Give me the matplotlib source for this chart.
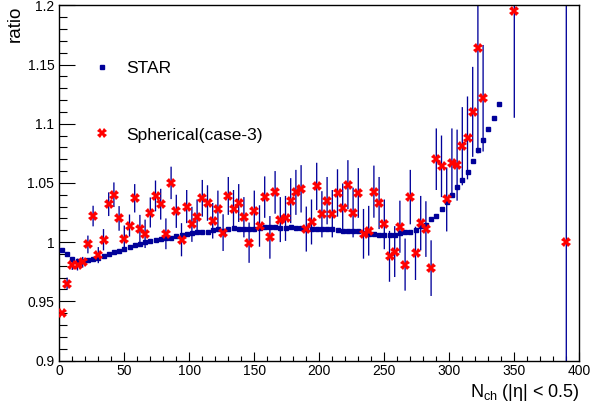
import matplotlib
matplotlib.use("Agg")
import matplotlib.pyplot as plt
from matplotlib.ticker import MultipleLocator

plt.rcParams['font.family'] = ['Liberation Sans', 'DejaVu Sans']
plt.rcParams['mathtext.fontset'] = 'custom'
plt.rcParams['mathtext.rm'] = 'Liberation Sans'
plt.rcParams['mathtext.it'] = 'Liberation Sans:italic'

# STAR ratio (bin centres and values)
star_x = [2, 6, 10, 14, 18, 22, 26, 30, 34, 38, 42, 46, 50, 54, 58, 62, 66, 70, 74, 78,
          82, 86, 90, 94, 98, 102, 106, 110, 114, 118, 122, 126, 130, 134, 138, 142, 146,
          150, 154, 158, 162, 166, 170, 174, 178, 182, 186, 190, 194, 198, 202, 206, 210,
          214, 218, 222, 226, 230, 234, 238, 242, 246, 250, 254, 258, 262, 266, 270, 274,
          278, 282, 286, 290, 294, 298, 302, 306, 310, 314, 318, 322, 326, 330, 334, 338]
star_y = [0.9933, 0.9897, 0.986, 0.984, 0.9843, 0.9846, 0.9855, 0.9868, 0.9885, 0.9897,
          0.9914, 0.9925, 0.994, 0.996, 0.9973, 0.9988, 1.0, 1.0009, 1.0015, 1.0024,
          1.0032, 1.0037, 1.005, 1.0057, 1.0066, 1.0075, 1.0084, 1.0084, 1.0084, 1.0098,
          1.011, 1.009, 1.011, 1.0116, 1.0107, 1.0107, 1.0107, 1.0113, 1.0119, 1.0125,
          1.0125, 1.0125, 1.0119, 1.0122, 1.0125, 1.0119, 1.0119, 1.0113, 1.0113, 1.011,
          1.0107, 1.011, 1.0108, 1.0103, 1.0096, 1.0094, 1.0094, 1.0094, 1.0077, 1.0066,
          1.0068, 1.0062, 1.006, 1.0058, 1.0058, 1.0074, 1.0088, 1.0088, 1.0102, 1.0136,
          1.0144, 1.0192, 1.022, 1.0277, 1.0336, 1.040, 1.0463, 1.0522, 1.059, 1.0682,
          1.0775, 1.0865, 1.0958, 1.1045, 1.1164]

# Spherical(case-3) ratio with errors
sph_x = [2, 6, 10, 14, 18, 22, 26, 30, 34, 38, 42, 46, 50, 54, 58, 62, 66, 70, 74, 78,
         82, 86, 90, 94, 98, 102, 106, 110, 114, 118, 122, 126, 130, 134, 138, 142, 146,
         150, 154, 158, 162, 166, 170, 174, 178, 182, 186, 190, 194, 198, 202, 206, 210,
         214, 218, 222, 226, 230, 234, 238, 242, 246, 250, 254, 258, 262, 266, 270, 274,
         278, 282, 286, 290, 294, 298, 302, 306, 310, 314, 318, 322, 326, 350, 390]
sph_y = [0.940, 0.965, 0.981, 0.981, 0.983, 0.998, 1.022, 0.989, 1.002, 1.032,
         1.040, 1.020, 1.003, 1.014, 1.037, 1.011, 1.007, 1.025, 1.039, 1.032,
         1.007, 1.050, 1.026, 1.002, 1.030, 1.015, 1.021, 1.037, 1.033, 1.018,
         1.028, 1.008, 1.039, 1.028, 1.033, 1.021, 0.9995, 1.026, 1.0136, 1.038,
         1.004, 1.042, 1.019, 1.020, 1.035, 1.042, 1.045, 1.011, 1.017, 1.047,
         1.0235, 1.035, 1.024, 1.0415, 1.029, 1.0485, 1.025, 1.0415, 1.007, 1.0096,
         1.0426, 1.033, 1.015, 0.988, 0.992, 1.013, 0.981, 1.038, 0.9905, 1.016,
         1.011, 0.978, 1.070, 1.064, 1.036, 1.067, 1.065, 1.081, 1.088, 1.110,
         1.164, 1.1215, 1.195, 1.000]
sph_err = [0.002, 0.005, 0.0045, 0.005, 0.0045, 0.0075, 0.0087, 0.0068, 0.009, 0.010,
           0.0104, 0.0104, 0.011, 0.0093, 0.012, 0.012, 0.012, 0.0127, 0.013, 0.013,
           0.013, 0.0137, 0.014, 0.014, 0.014, 0.0148, 0.015, 0.0155, 0.015, 0.015,
           0.0155, 0.0155, 0.016, 0.016, 0.016, 0.017, 0.017, 0.0175, 0.0175, 0.0175,
           0.018, 0.018, 0.019, 0.019, 0.019, 0.019, 0.020, 0.019, 0.019, 0.020,
           0.0195, 0.020, 0.020, 0.020, 0.0205, 0.0207, 0.021, 0.021, 0.021, 0.021,
           0.022, 0.022, 0.021, 0.0215, 0.0215, 0.022, 0.022, 0.023, 0.0225, 0.023,
           0.0235, 0.0235, 0.026, 0.026, 0.027, 0.029, 0.030, 0.033, 0.035, 0.038,
           0.089, 0.045, 0.090, 0.500]

fig = plt.figure(figsize=(5.91, 4.05), dpi=100)
ax = fig.add_axes([59.3 / 591, 1 - 360.5 / 405, (579.3 - 59.3) / 591, (360.5 - 5.3) / 405])

eb = ax.errorbar(sph_x, sph_y, yerr=sph_err, fmt='none', ecolor='#00009a',
                 elinewidth=0.95, capsize=0, zorder=2)
for coll in eb[2]:
    coll.set_snap(False)

ax.plot(star_x, star_y, linestyle='none', marker='s', markersize=2.7,
        color='#000099', label='STAR', zorder=3)
ax.plot(sph_x, sph_y, linestyle='none', marker='X', markersize=7,
        color='#ff0000', markeredgewidth=0, label='Spherical(case-3)', zorder=4)

ax.set_xlim(0, 400)
ax.set_ylim(0.9, 1.2)
ax.xaxis.set_major_locator(MultipleLocator(50))
ax.xaxis.set_minor_locator(MultipleLocator(10))
ax.yaxis.set_major_locator(MultipleLocator(0.05))
ax.yaxis.set_minor_locator(MultipleLocator(0.01))
ax.yaxis.set_major_formatter(matplotlib.ticker.FuncFormatter(lambda v, p: f"{v:g}"))

ax.tick_params(axis='both', which='both', direction='in', top=False, right=False,
               labelsize=10, width=0.8, color='black')
ax.tick_params(axis='y', which='major', length=11.3, pad=3.6)
ax.tick_params(axis='y', which='minor', length=5.8)
ax.tick_params(axis='x', which='major', length=6.7, pad=2.5)
ax.tick_params(axis='x', which='minor', length=3.6)
for s in ax.spines.values():
    s.set_linewidth(1.0)

ax.set_xlabel(r'N$_{\mathrm{ch}}$ (|η| < 0.5)', fontsize=13, loc='right', labelpad=3)
fig.text(15 / 591, 1 - 6 / 405, 'ratio', fontsize=13.5, rotation=90,
         ha='center', va='top')

ax.legend(loc='upper left', bbox_to_anchor=(93.3 / 591, 1 - 61 / 405),
          bbox_transform=fig.transFigure, frameon=False, fontsize=12.5,
          numpoints=1, handlelength=1.0, handletextpad=0.9, labelspacing=2.95,
          borderpad=0, borderaxespad=0, markerscale=1.0)

fig.savefig('out.png', dpi=100)
